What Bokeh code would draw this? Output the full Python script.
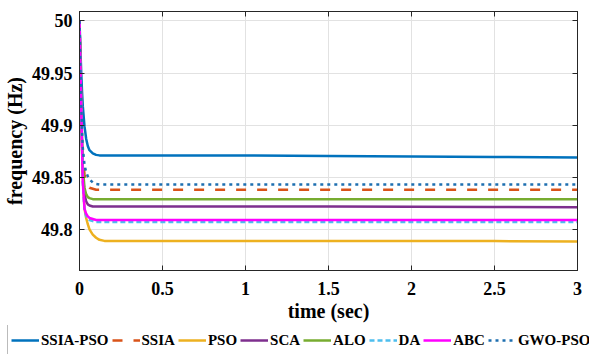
from bokeh.plotting import figure
from bokeh.models import Legend, LegendItem, LinearAxis, FixedTicker
from bokeh.embed import file_html
from bokeh.resources import INLINE

# Time samples (s)
t = [0, 0.005, 0.01, 0.015, 0.02, 0.03, 0.04, 0.05, 0.06, 0.08, 0.10, 0.12, 0.15, 0.2, 0.5, 1.0, 1.5, 2.0, 2.5, 3.0]

# Frequency response (Hz) for each controller tuning method
ssia_pso = [50, 49.975, 49.952, 49.933, 49.918, 49.899, 49.887, 49.880, 49.876, 49.873, 49.8715, 49.871, 49.871, 49.871, 49.871, 49.871, 49.8705, 49.870, 49.8695, 49.869]
ssia     = [50, 49.960, 49.922, 49.890, 49.870, 49.853, 49.846, 49.842, 49.840, 49.839, 49.838, 49.838, 49.838, 49.838, 49.838, 49.838, 49.838, 49.838, 49.838, 49.838]
pso      = [50, 49.960, 49.920, 49.880, 49.850, 49.820, 49.811, 49.805, 49.800, 49.795, 49.792, 49.790, 49.789, 49.789, 49.789, 49.789, 49.789, 49.789, 49.7888, 49.7885]
sca      = [50, 49.960, 49.920, 49.883, 49.855, 49.834, 49.827, 49.824, 49.823, 49.822, 49.822, 49.822, 49.822, 49.822, 49.822, 49.822, 49.822, 49.8218, 49.8215, 49.8212]
alo      = [50, 49.960, 49.920, 49.885, 49.860, 49.840, 49.834, 49.831, 49.830, 49.829, 49.829, 49.829, 49.829, 49.829, 49.829, 49.829, 49.829, 49.829, 49.829, 49.829]
da       = [50, 49.960, 49.920, 49.880, 49.845, 49.819, 49.813, 49.810, 49.809, 49.808, 49.807, 49.807, 49.807, 49.807, 49.807, 49.807, 49.807, 49.807, 49.807, 49.807]
abc      = [50, 49.960, 49.920, 49.880, 49.845, 49.820, 49.815, 49.8125, 49.811, 49.810, 49.809, 49.809, 49.809, 49.809, 49.809, 49.809, 49.809, 49.809, 49.809, 49.809]
gwo_pso  = [50, 49.960, 49.925, 49.895, 49.878, 49.862, 49.855, 49.851, 49.848, 49.845, 49.8435, 49.843, 49.843, 49.843, 49.843, 49.843, 49.843, 49.843, 49.843, 49.843]

x_ticks = [0, 0.5, 1, 1.5, 2, 2.5, 3]
x_tick_labels = ["0", "0.5", "1", "1.5", "2", "2.5", "3"]
y_ticks = [49.8, 49.85, 49.9, 49.95, 50]
y_tick_labels = ["49.8", "49.85", "49.9", "49.95", "50"]

FONT = "Liberation Serif"
EDGE = "#262626"

series = [
    ("SSIA-PSO", ssia_pso, "#0072BD", "solid"),
    ("SSIA", ssia, "#D95319", "10 11"),
    ("PSO", pso, "#EDB120", "solid"),
    ("SCA", sca, "#7E2F8E", "solid"),
    ("ALO", alo, "#77AC30", "solid"),
    ("DA", da, "#4DBEEE", "5 3"),
    ("ABC", abc, "#FF00FF", "solid"),
    ("GWO-PSO", gwo_pso, "#1E6FB0", "3 4"),
]

# main axes
p = figure(width=589, height=325, x_range=(0, 3), y_range=(49.7606, 50.009),
           output_backend="svg", toolbar_location=None,
           min_border_left=79, min_border_right=12, min_border_top=11, min_border_bottom=55)

for name, ys, color, dash in series:
    p.line(t, ys, line_color=color, line_width=2.5, line_dash=dash)

for ax in (p.xaxis[0], p.yaxis[0]):
    ax.major_label_text_font = FONT
    ax.major_label_text_font_style = "bold"
    ax.major_label_text_font_size = "18px"
    ax.major_label_text_color = "#000000"
    ax.axis_label_text_font = FONT
    ax.axis_label_text_font_style = "bold"
    ax.axis_label_text_font_size = "20px"
    ax.axis_label_text_color = "#000000"
    ax.major_tick_in = 5
    ax.major_tick_out = 0
    ax.minor_tick_line_color = None
    ax.axis_line_color = EDGE
    ax.major_tick_line_color = EDGE

p.xaxis.ticker = FixedTicker(ticks=x_ticks)
p.xaxis.major_label_overrides = dict(zip(x_ticks, x_tick_labels))
p.xaxis.axis_label = "time (sec)"
p.xaxis.major_label_standoff = 11
p.xaxis.axis_label_standoff = 2

p.yaxis.ticker = FixedTicker(ticks=y_ticks)
p.yaxis.major_label_overrides = dict(zip(y_ticks, y_tick_labels))
p.yaxis.axis_label = "frequency (Hz)"
p.yaxis.major_label_standoff = 7
p.yaxis.axis_label_standoff = 3

# inward ticks on the top and right edges of the box, no labels
for loc, ticks in (("above", x_ticks), ("right", y_ticks)):
    edge_axis = LinearAxis(ticker=FixedTicker(ticks=ticks), major_label_text_font_size="0px",
                           major_label_text_color=None, major_label_standoff=0,
                           major_tick_in=5, major_tick_out=0, minor_tick_line_color=None,
                           axis_line_color=EDGE, major_tick_line_color=EDGE)
    p.add_layout(edge_axis, loc)

p.xgrid.ticker = FixedTicker(ticks=x_ticks)
p.ygrid.ticker = FixedTicker(ticks=y_ticks)
p.grid.grid_line_color = "#e2e2e2"
p.grid.grid_line_width = 1
p.outline_line_color = EDGE

# legend strip underneath; its lines sit outside its own view and only lend their styles
lg = figure(width=589, height=29, x_range=(0, 1), y_range=(0, 1),
            output_backend="svg", toolbar_location=None,
            x_axis_type=None, y_axis_type=None,
            min_border_left=0, min_border_right=0, min_border_top=0, min_border_bottom=0)
lg.grid.visible = False
lg.outline_line_color = None

items = []
for name, ys, color, dash in series:
    r = lg.line(t, ys, line_color=color, line_width=2.5, line_dash=dash)
    items.append(LegendItem(label=name, renderers=[r]))

legend = Legend(items=items, orientation="horizontal", location=(7, -4),
                label_text_font=FONT, label_text_font_style="bold",
                label_text_font_size="15px", label_text_color="#000000",
                glyph_width=28, glyph_height=28, label_standoff=2, spacing=3,
                padding=3, margin=0, border_line_color="#777777",
                border_line_width=1, background_fill_color="white",
                background_fill_alpha=1)
lg.add_layout(legend)

open("out.html", "w").write(file_html([p, lg], INLINE))
